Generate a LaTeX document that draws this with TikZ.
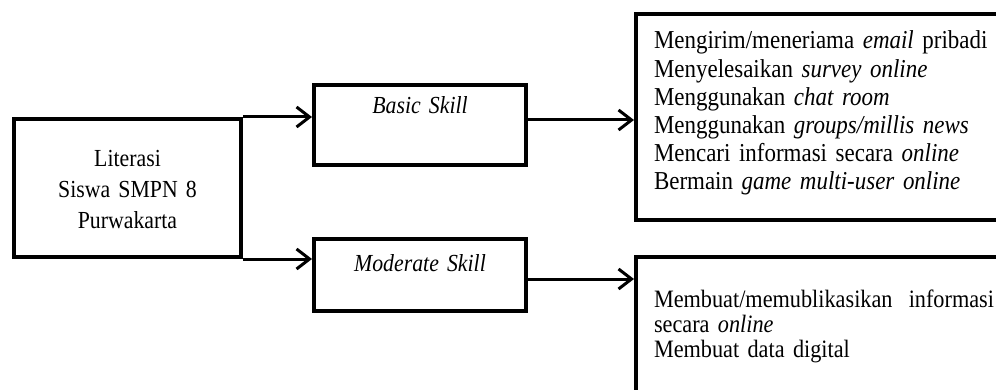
\documentclass[tikz,border=0pt]{standalone}
\usepackage{fontspec}
\setmainfont[FakeStretch=0.89]{Liberation Serif}
\usetikzlibrary{arrows.meta}

\begin{document}
\begin{tikzpicture}[x=1pt,y=-1pt,
  box/.style={draw,line width=4pt,inner sep=0pt,anchor=north west,align=center,
    font=\fontsize{24.5}{31}\selectfont},
  list/.style={box,align=left,inner xsep=18pt,text width=340pt},
  link/.style={line width=3pt,-{Straight Barb[length=13pt,width=20pt]}}]
\useasboundingbox (0,0) rectangle (996,390);
\clip (0,0) rectangle (996,390);

\node[box,text width=227pt,text height=48pt,text depth=90pt] (lit) at (12,117)
  {Literasi\\ Siswa SMPN 8\\ Purwakarta};
\node[box,text width=212pt,text height=29pt,text depth=51pt] (basic) at (312,83)
  {\textit{Basic Skill}};
\node[box,text width=212pt,text height=33pt,text depth=39pt] (moderate) at (312,237)
  {\textit{Moderate Skill}};

\node[list,text height=35pt,text depth=171pt,font=\fontsize{25.8}{28.2}\selectfont] (basiclist) at (634,12)
  {Mengirim/meneriama \textit{email} pribadi\\
   Menyelesaikan \textit{survey online}\\
   Menggunakan \textit{chat room}\\
   Menggunakan \textit{groups/millis news}\\
   Mencari informasi secara \textit{online}\\
   Bermain \textit{game multi-user online}};
\node[list,text height=50pt,text depth=150pt,font=\fontsize{25}{25}\selectfont] (modlist) at (634,255)
  {\hbox to 340pt{Membuat/memublikasikan\hspace{6pt}\hfill informasi}\\
   secara \textit{online}\\
   Membuat data digital};

% connectors
\draw[link] (lit.north east) -- (lit.north east -| basic.west);
\draw[link] (lit.south east) -- (lit.south east -| moderate.west);
\draw[link] ([yshift=5pt]basic.east) -- ([yshift=5pt]basic.east -| basiclist.west);
\draw[link] ([yshift=-4pt]moderate.east) -- ([yshift=-4pt]moderate.east -| modlist.west);
\end{tikzpicture}
\end{document}
